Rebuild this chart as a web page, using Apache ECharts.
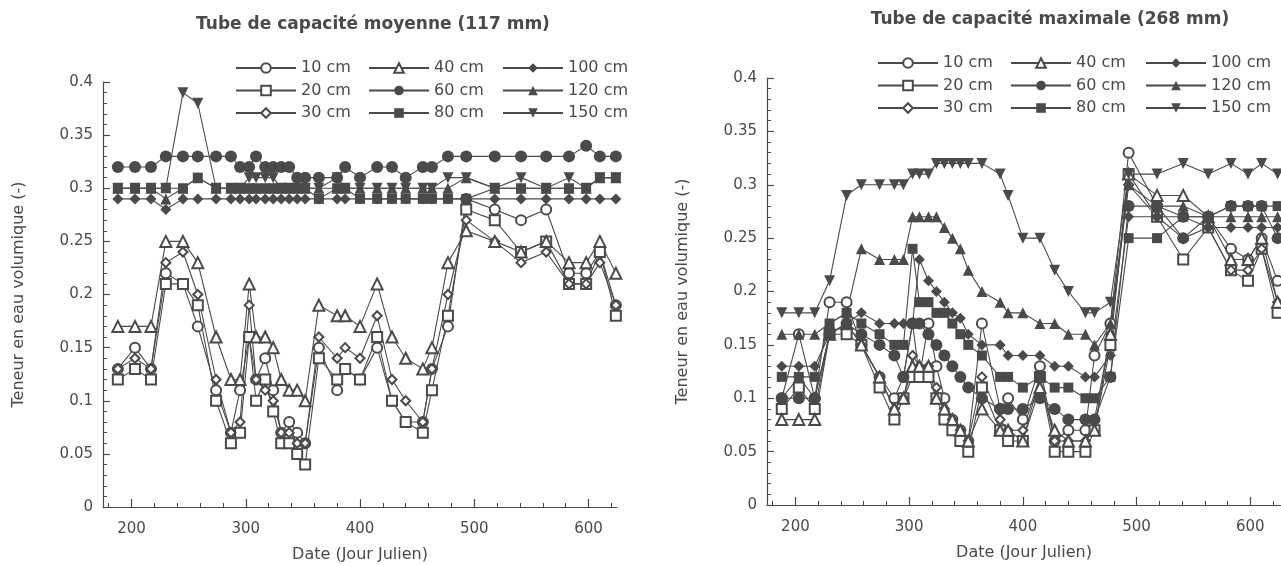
<!DOCTYPE html>
<html>
<head>
<meta charset="UTF-8">
<title></title>
<script src="https://cdn.jsdelivr.net/npm/echarts@6/dist/echarts.min.js"></script>
<style>
html, body { margin: 0; padding: 0; background: #fff; }
#main { width: 1281px; height: 565px; }
</style>
</head>
<body>
<div id="main"></div>
<script>
// jours juliens des mesures (communs aux deux tubes)
var dates = [188, 203, 217, 230, 245, 258, 274, 287, 295, 303, 309, 317, 324, 331, 338, 345, 352, 364,
             380, 387, 400, 415, 428, 440, 455, 463, 477, 493, 518, 541, 563, 583, 598, 610, 624];

var depthNames = ['10 cm', '20 cm', '30 cm', '40 cm', '60 cm', '80 cm', '100 cm', '120 cm', '150 cm'];

// tube de capacité moyenne (117 mm)
var moy10  = [0.13, 0.15, 0.13, 0.22, 0.21, 0.17, 0.11, 0.07, 0.11, 0.16, 0.12, 0.14, 0.11, 0.07, 0.08, 0.07, 0.06, 0.15,
              0.11, 0.13, 0.12, 0.15, 0.10, 0.08, 0.08, 0.13, 0.17, 0.29, 0.28, 0.27, 0.28, 0.22, 0.22, 0.24, 0.19];
var moy20  = [0.12, 0.13, 0.12, 0.21, 0.21, 0.19, 0.10, 0.06, 0.07, 0.16, 0.10, 0.12, 0.09, 0.06, 0.06, 0.05, 0.04, 0.14,
              0.12, 0.13, 0.12, 0.16, 0.10, 0.08, 0.07, 0.11, 0.18, 0.28, 0.27, 0.24, 0.25, 0.21, 0.21, 0.24, 0.18];
var moy30  = [0.13, 0.14, 0.13, 0.23, 0.24, 0.20, 0.12, 0.07, 0.08, 0.19, 0.12, 0.11, 0.10, 0.07, 0.07, 0.06, 0.06, 0.16,
              0.14, 0.15, 0.14, 0.18, 0.12, 0.10, 0.08, 0.13, 0.20, 0.27, 0.25, 0.23, 0.24, 0.21, 0.21, 0.23, 0.19];
var moy40  = [0.17, 0.17, 0.17, 0.25, 0.25, 0.23, 0.16, 0.12, 0.12, 0.21, 0.16, 0.16, 0.15, 0.12, 0.11, 0.11, 0.10, 0.19,
              0.18, 0.18, 0.17, 0.21, 0.16, 0.14, 0.13, 0.15, 0.23, 0.26, 0.25, 0.24, 0.25, 0.23, 0.23, 0.25, 0.22];
var moy60  = [0.32, 0.32, 0.32, 0.33, 0.33, 0.33, 0.33, 0.33, 0.32, 0.32, 0.33, 0.32, 0.32, 0.32, 0.32, 0.31, 0.31, 0.31,
              0.31, 0.32, 0.31, 0.32, 0.32, 0.31, 0.32, 0.32, 0.33, 0.33, 0.33, 0.33, 0.33, 0.33, 0.34, 0.33, 0.33];
var moy80  = [0.30, 0.30, 0.30, 0.30, 0.30, 0.31, 0.30, 0.30, 0.30, 0.30, 0.30, 0.30, 0.30, 0.30, 0.30, 0.30, 0.30, 0.29,
              0.30, 0.30, 0.29, 0.29, 0.29, 0.29, 0.29, 0.29, 0.29, 0.29, 0.30, 0.30, 0.30, 0.30, 0.30, 0.31, 0.31];
var moy100 = [0.29, 0.29, 0.29, 0.28, 0.29, 0.29, 0.29, 0.29, 0.29, 0.29, 0.29, 0.29, 0.29, 0.29, 0.29, 0.29, 0.29, 0.29,
              0.29, 0.29, 0.29, 0.29, 0.29, 0.29, 0.29, 0.29, 0.29, 0.29, 0.29, 0.29, 0.29, 0.29, 0.29, 0.29, 0.29];
var moy120 = [0.30, 0.30, 0.30, 0.29, 0.30, 0.31, 0.30, 0.30, 0.30, 0.30, 0.30, 0.30, 0.30, 0.30, 0.30, 0.30, 0.30, 0.30,
              0.30, 0.30, 0.30, 0.30, 0.30, 0.30, 0.30, 0.30, 0.30, 0.31, 0.30, 0.30, 0.30, 0.30, 0.30, 0.31, 0.31];
var moy150 = [0.30, 0.30, 0.30, 0.30, 0.39, 0.38, 0.30, 0.30, 0.30, 0.31, 0.31, 0.31, 0.31, 0.30, 0.30, 0.30, 0.30, 0.30,
              0.31, 0.30, 0.30, 0.30, 0.30, 0.30, 0.30, 0.30, 0.31, 0.31, 0.30, 0.31, 0.30, 0.31, 0.30, 0.31, 0.31];

// tube de capacité maximale (268 mm)
var max10  = [0.10, 0.16, 0.10, 0.19, 0.19, 0.15, 0.12, 0.10, 0.12, 0.17, 0.12, 0.17, 0.13, 0.10, 0.08, 0.07, 0.06, 0.17,
              0.09, 0.10, 0.08, 0.13, 0.06, 0.07, 0.07, 0.14, 0.17, 0.33, 0.28, 0.27, 0.27, 0.24, 0.23, 0.25, 0.21];
var max20  = [0.09, 0.11, 0.09, 0.16, 0.16, 0.15, 0.11, 0.08, 0.10, 0.12, 0.12, 0.12, 0.10, 0.08, 0.07, 0.06, 0.05, 0.11,
              0.07, 0.06, 0.06, 0.12, 0.05, 0.05, 0.05, 0.07, 0.15, 0.31, 0.27, 0.23, 0.26, 0.22, 0.21, 0.24, 0.18];
var max30  = [0.10, 0.12, 0.10, 0.16, 0.17, 0.15, 0.12, 0.09, 0.10, 0.14, 0.13, 0.13, 0.11, 0.09, 0.08, 0.07, 0.06, 0.12,
              0.08, 0.07, 0.07, 0.12, 0.06, 0.06, 0.06, 0.08, 0.16, 0.30, 0.27, 0.25, 0.26, 0.22, 0.22, 0.24, 0.19];
var max40  = [0.08, 0.08, 0.08, 0.16, 0.17, 0.15, 0.12, 0.09, 0.10, 0.13, 0.13, 0.13, 0.10, 0.09, 0.08, 0.07, 0.06, 0.09,
              0.07, 0.07, 0.06, 0.11, 0.07, 0.06, 0.06, 0.07, 0.16, 0.31, 0.29, 0.29, 0.27, 0.23, 0.23, 0.25, 0.19];
var max60  = [0.10, 0.10, 0.10, 0.16, 0.17, 0.16, 0.15, 0.14, 0.12, 0.17, 0.17, 0.16, 0.15, 0.14, 0.13, 0.12, 0.11, 0.10,
              0.09, 0.09, 0.09, 0.10, 0.09, 0.08, 0.08, 0.08, 0.12, 0.28, 0.28, 0.25, 0.27, 0.28, 0.28, 0.28, 0.25];
var max80  = [0.12, 0.12, 0.12, 0.17, 0.18, 0.17, 0.16, 0.15, 0.15, 0.24, 0.19, 0.19, 0.18, 0.18, 0.17, 0.16, 0.15, 0.14,
              0.12, 0.12, 0.11, 0.12, 0.11, 0.11, 0.10, 0.10, 0.12, 0.25, 0.25, 0.27, 0.27, 0.28, 0.28, 0.28, 0.28];
var max100 = [0.13, 0.13, 0.13, 0.16, 0.17, 0.18, 0.17, 0.17, 0.17, 0.17, 0.23, 0.21, 0.20, 0.19, 0.18, 0.175, 0.16, 0.15,
              0.15, 0.14, 0.14, 0.14, 0.13, 0.13, 0.12, 0.12, 0.14, 0.27, 0.27, 0.27, 0.26, 0.26, 0.26, 0.26, 0.26];
var max120 = [0.16, 0.16, 0.16, 0.17, 0.18, 0.24, 0.23, 0.23, 0.23, 0.27, 0.27, 0.27, 0.27, 0.26, 0.25, 0.24, 0.22, 0.20,
              0.19, 0.18, 0.18, 0.17, 0.17, 0.16, 0.16, 0.15, 0.17, 0.30, 0.28, 0.28, 0.27, 0.27, 0.27, 0.27, 0.27];
var max150 = [0.18, 0.18, 0.18, 0.21, 0.29, 0.30, 0.30, 0.30, 0.30, 0.31, 0.31, 0.31, 0.32, 0.32, 0.32, 0.32, 0.32, 0.32,
              0.31, 0.29, 0.25, 0.25, 0.22, 0.20, 0.18, 0.18, 0.19, 0.31, 0.31, 0.32, 0.31, 0.32, 0.31, 0.32, 0.31];

var xMajor = [200, 300, 400, 500, 600];
var xMinor = [180, 220, 240, 260, 280, 320, 340, 360, 380, 420, 440, 460, 480, 520, 540, 560, 580, 620];

var ink = '#4a4a4a';
var font = 'DejaVu Sans';
var downTri = 'path://M0,0L10,0L5,9Z';

// symbole et taille pour chaque profondeur
var marks = {
	'10 cm': ['emptyCircle', 10],
	'20 cm': ['emptyRect', 10],
	'30 cm': ['emptyDiamond', 9],
	'40 cm': ['emptyTriangle', 11],
	'60 cm': ['circle', 12],
	'80 cm': ['rect', 10],
	'100 cm': ['diamond', 11],
	'120 cm': ['triangle', 11],
	'150 cm': [downTri, 11]
};

var tubes = [
	[moy10, moy20, moy30, moy40, moy60, moy80, moy100, moy120, moy150],
	[max10, max20, max30, max40, max60, max80, max100, max120, max150]
];

var myChart = echarts.init(document.getElementById('main'));

function xAxes(g, max) {
	return [{
		gridIndex: g, type: 'value', position: 'bottom', min: 175, max: max,
		name: 'Date (Jour Julien)', nameLocation: 'middle', nameGap: 40,
		nameTextStyle: {fontFamily: font, fontSize: 16, color: ink},
		axisLine: {show: true, onZero: false, lineStyle: {color: ink, width: 1.2}},
		axisTick: {show: true, inside: true, length: 8, customValues: xMajor, lineStyle: {color: ink, width: 1.2}},
		axisLabel: {fontFamily: font, fontSize: 15, color: ink, margin: 15, customValues: xMajor},
		splitLine: {show: false}
	}, {
		gridIndex: g, type: 'value', position: 'bottom', min: 175, max: max,
		axisLine: {show: false, onZero: false},
		axisTick: {show: true, inside: true, length: 4, customValues: xMinor, lineStyle: {color: ink}},
		axisLabel: {show: false},
		splitLine: {show: false}
	}];
}

function yAxis(g) {
	return {
		gridIndex: g, type: 'value', min: 0, max: 0.4, interval: 0.05,
		name: 'Teneur en eau volumique (-)', nameLocation: 'middle', nameGap: 76,
		nameTextStyle: {fontFamily: font, fontSize: 16, color: ink},
		axisLine: {show: true, lineStyle: {color: ink, width: 1.2}},
		axisTick: {show: true, inside: true, length: 7, lineStyle: {color: ink, width: 1.2}},
		minorTick: {show: true, splitNumber: 5, length: 4, lineStyle: {color: ink}},
		axisLabel: {fontFamily: font, fontSize: 15, color: ink, margin: 10},
		splitLine: {show: false}
	};
}

var series = [];
tubes.forEach(function(tube, g) {
	tube.forEach(function(vals, k) {
		var name = depthNames[k];
		series.push({
			type: 'line', name: name,
			xAxisIndex: g * 2, yAxisIndex: g,
			data: dates.map(function(d, i) { return [d, vals[i]]; }),
			symbol: marks[name][0], symbolSize: marks[name][1],
			lineStyle: {color: ink, width: 1.1},
			itemStyle: {color: ink, borderWidth: 1.2},
			emphasis: {disabled: true},
			clip: false
		});
	});
});

var cols = [['10 cm', '20 cm', '30 cm'], ['40 cm', '60 cm', '80 cm'], ['100 cm', '120 cm', '150 cm']];
var legendLeft = [[235, 368, 502], [877, 1010, 1145]];
var legendTop = [60, 55];
var legends = [];
[0, 1].forEach(function(g) {
	cols.forEach(function(names, c) {
		legends.push({
			orient: 'vertical', left: legendLeft[g][c], top: legendTop[g], padding: 0,
			itemWidth: 60, itemHeight: 12, itemGap: 6.5, selectedMode: false,
			textStyle: {fontFamily: font, fontSize: 16, lineHeight: 16, color: ink},
			data: names
		});
	});
});

var option = {
	animation: false,
	backgroundColor: '#fff',
	title: [{
		text: 'Tube de capacité moyenne (117 mm)', left: 373, top: 16, textAlign: 'center', padding: 0,
		textStyle: {fontFamily: font, fontWeight: 'bold', fontSize: 17, color: ink}
	}, {
		text: 'Tube de capacité maximale (268 mm)', left: 1050, top: 11, textAlign: 'center', padding: 0,
		textStyle: {fontFamily: font, fontWeight: 'bold', fontSize: 17, color: ink}
	}],
	legend: legends,
	grid: [
		{left: 103, top: 82, width: 514, height: 425, outerBoundsMode: 'none'},
		{left: 767, top: 78, width: 514, height: 427, outerBoundsMode: 'none'}
	],
	xAxis: xAxes(0, 625).concat(xAxes(1, 627)),
	yAxis: [yAxis(0), yAxis(1)],
	series: series
};
myChart.setOption(option);
</script>
</body>
</html>
